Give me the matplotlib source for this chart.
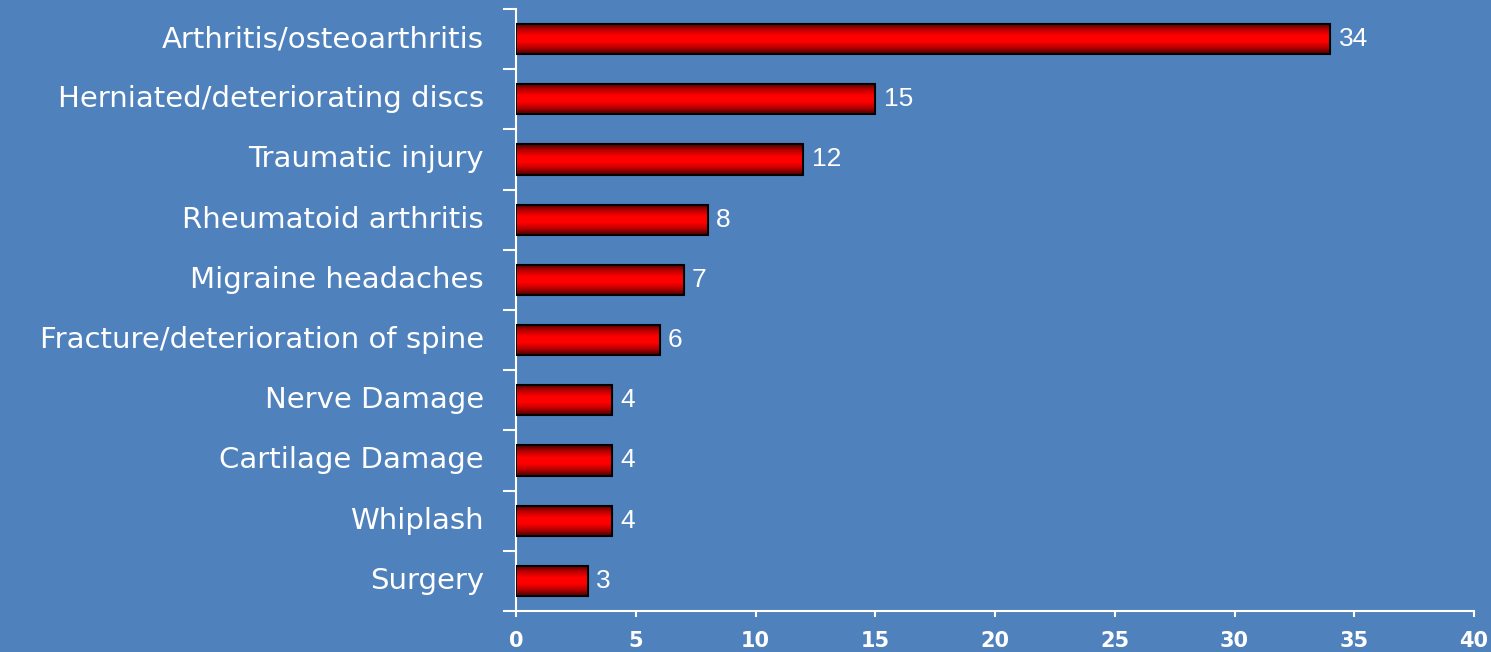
#!/usr/bin/env python
import numpy as np
import matplotlib
matplotlib.use("Agg")
import matplotlib.pyplot as plt
from matplotlib.colors import LinearSegmentedColormap

conditions = [
    "Arthritis/osteoarthritis",
    "Herniated/deteriorating discs",
    "Traumatic injury",
    "Rheumatoid arthritis",
    "Migraine headaches",
    "Fracture/deterioration of spine",
    "Nerve Damage",
    "Cartilage Damage",
    "Whiplash",
    "Surgery",
]
counts = [34, 15, 12, 8, 7, 6, 4, 4, 4, 3]
x_ticks = [0, 5, 10, 15, 20, 25, 30, 35, 40]

BG = "#4F81BD"
plt.rcParams["font.family"] = ["DejaVu Sans"]

fig = plt.figure(figsize=(14.91, 6.52), dpi=100, facecolor=BG)
ax = fig.add_axes([0.3461, 0.0629, 0.6425, 0.9233], facecolor=BG)

pos = np.arange(len(conditions))[::-1]
bars = ax.barh(pos, counts, height=0.5, facecolor="none",
               edgecolor="black", linewidth=1.5, zorder=3)

# vertical gradient: dark at top/bottom edges, bright red in the middle
cmap = LinearSegmentedColormap.from_list(
    "bar", ["#4a0000", "#b80000", "#ff0000", "#ff0000", "#b80000", "#4a0000"])
grad = np.linspace(0, 1, 100).reshape(-1, 1)
for b in bars:
    x0, y0 = b.get_x(), b.get_y()
    ax.imshow(grad, cmap=cmap, aspect="auto", zorder=2,
              extent=(x0, x0 + b.get_width(), y0, y0 + b.get_height()),
              interpolation="bilinear")

for p, c in zip(pos, counts):
    ax.annotate(str(c), xy=(c, p), xytext=(6, 0), textcoords="offset points",
                va="center", ha="left", color="white", fontsize=19,
                family="Liberation Sans")

ax.set_xlim(0, 40)
ax.set_ylim(-0.5, len(conditions) - 0.5)
ax.set_xticks(x_ticks)
ax.set_xticklabels([str(t) for t in x_ticks], fontsize=15,
                   fontweight="bold", color="white")
ax.set_yticks(np.arange(-0.5, len(conditions), 1.0))
ax.set_yticklabels([])
ax.set_yticks(pos, minor=True)
ax.set_yticklabels(conditions, minor=True, fontsize=21, color="white",
                   va="center")
ax.tick_params(axis="y", which="major", length=9.5, width=1.5,
               color="white", direction="out")
ax.tick_params(axis="y", which="minor", length=0, pad=23)
ax.tick_params(axis="x", length=4.5, width=1.5, color="white", pad=10)

for s in ["top", "right"]:
    ax.spines[s].set_visible(False)
for s in ["left", "bottom"]:
    ax.spines[s].set_color("white")
    ax.spines[s].set_linewidth(1.5)

fig.savefig("out.png", dpi=100, facecolor=BG)
